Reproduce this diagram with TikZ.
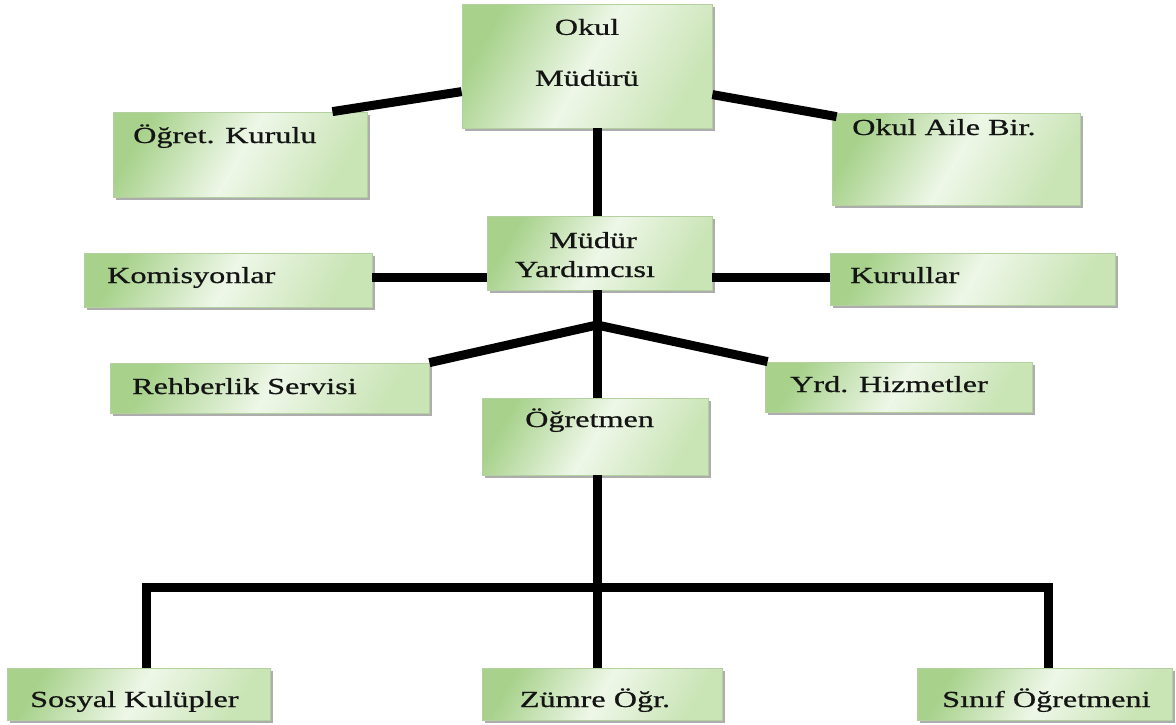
\documentclass[tikz,border=0pt]{standalone}
\usepackage{fontspec}
\usepackage{graphicx}
\setmainfont{Liberation Serif}
\newfontfamily\boxfont[FakeBold=0.6]{Liberation Serif}
\usetikzlibrary{shadows,calc}
\definecolor{gdark}{HTML}{A8D28C}
\definecolor{glight}{HTML}{EEF7E8}
\definecolor{gmid}{HTML}{C9E4B5}
\definecolor{gborder}{HTML}{B4CFA0}
\newcommand\sx[1]{\scalebox{1.4}[1]{#1}}
\tikzset{
  orgbox/.style 2 args={draw=gborder, line width=0.8pt,
    left color=gdark, right color=gmid, middle color=glight, shading angle=60,
    drop shadow={shadow xshift=3pt, shadow yshift=-3pt, fill=black!40, opacity=0.8},
    minimum width=#1, minimum height=#2, inner sep=0pt},
  lbl/.style={inner sep=0pt, font=\boxfont\fontsize{23}{27}\selectfont, text=black!92},
  conn/.style={line width=9pt, black, line join=miter}
}
\begin{document}
\begin{tikzpicture}[x=1pt,y=-1pt]
\useasboundingbox[fill=white] (0,0) rectangle (1176,724);
% boxes
\node[orgbox={250}{124}] (om) at (587,66) {};
\node[orgbox={254}{85}]  (ok) at (240,154.5) {};
\node[orgbox={248}{92}]  (oa) at (956,159) {};
\node[orgbox={225}{74}]  (my) at (599.5,253) {};
\node[orgbox={288}{54}]  (ko) at (228,280) {};
\node[orgbox={285}{52}]  (ku) at (972.5,279) {};
\node[orgbox={319}{50}]  (rs) at (269.5,388) {};
\node[orgbox={267}{50}]  (yh) at (898.5,387) {};
\node[orgbox={226}{77}]  (og) at (595,436.5) {};
\node[orgbox={263}{52}]  (sk) at (138.5,694) {};
\node[orgbox={240}{52}]  (zo) at (602,694) {};
\node[orgbox={255}{52}]  (si) at (1044.5,694) {};
% labels
\node[lbl] (t-om1) at (587,27) {\sx{Okul}};
\node[lbl] (t-om2) at (587,78) {\sx{Müdürü}};
\node[lbl, anchor=base west] (t-ok) at (133,143) {\sx{Öğret. Kurulu}};
\node[lbl, anchor=base west] (t-oa) at (852,135) {\sx{Okul Aile Bir.}};
\node[lbl, anchor=base] (t-my1) at (593,248) {\sx{Müdür}};
\node[lbl, anchor=base] (t-my2) at (585,277) {\sx{Yardımcısı}};
\node[lbl, anchor=base west] (t-ko) at (107,283) {\sx{Komisyonlar}};
\node[lbl, anchor=base west] (t-ku) at (850,283) {\sx{Kurullar}};
\node[lbl, anchor=base west] (t-rs) at (132,394) {\sx{Rehberlik Servisi}};
\node[lbl, anchor=base west] (t-yh) at (790,392) {\sx{Yrd. Hizmetler}};
\node[lbl, anchor=base west] (t-og) at (525,427) {\sx{Öğretmen}};
\node[lbl, anchor=base west] (t-sk) at (30,707) {\sx{Sosyal Kulüpler}};
\node[lbl, anchor=base] (t-zo) at (595,707) {\sx{Zümre Öğr.}};
\node[lbl, anchor=base west] (t-si) at (942,707) {\sx{Sınıf Öğretmeni}};
% helper coordinates
\coordinate (col) at (597,0);
\coordinate (j1) at (597,325);
\coordinate (bl) at (146,587);
\coordinate (br) at (1048,587);
% connectors
\draw[conn] ($(om.north west)+(0,88)$) -- ($(ok.north east)+(-35,0)$);
\draw[conn] ($(om.north east)+(0,91)$) -- ($(oa.north west)+(5,4)$);
\draw[conn] (om.south -| col) -- (my.north -| col);
\draw[conn] ($(ko.east)+(0,-3)$) -- ($(ko.east -| my.west)+(0,-3)$);
\draw[conn] ($(ku.west)+(0,-2)$) -- ($(ku.west -| my.east)+(0,-2)$);
\draw[conn] (my.south -| col) -- (og.north -| col);
\draw[conn] (j1) -- (rs.north east);
\draw[conn] (j1) -- ($(yh.north west)+(3,0)$);
\draw[conn] (og.south -| col) -- (zo.north -| col);
\draw[conn] (sk.north -| bl) -- (bl) -- (br) -- (si.north -| br);
\end{tikzpicture}
\end{document}
